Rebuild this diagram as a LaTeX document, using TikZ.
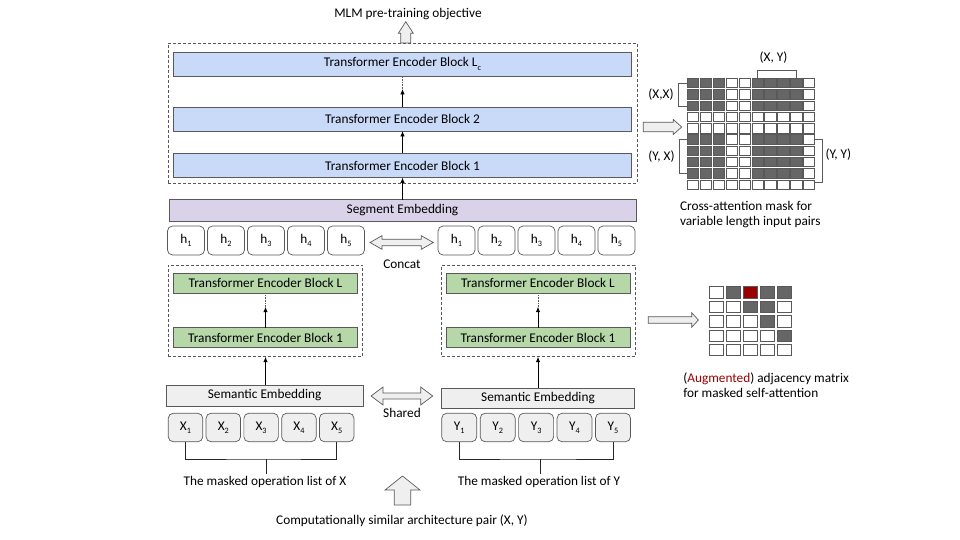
\documentclass[tikz,border=0pt]{standalone}
\usepackage{fontspec}
\setmainfont{Carlito}
\usetikzlibrary{arrows.meta,calc}

\definecolor{edge}{HTML}{595959}
\definecolor{blueF}{HTML}{C9DAF8}
\definecolor{purpleF}{HTML}{D9D2E9}
\definecolor{greenF}{HTML}{B6D7A8}
\definecolor{greyF}{HTML}{EFEFEF}
\definecolor{cellD}{HTML}{666666}
\definecolor{cellR}{HTML}{990000}
\definecolor{augred}{HTML}{990000}

% small lowered index, as in h_1 or X_1
\newcommand\lowidx[1]{\raisebox{-0.5ex}{\fontsize{8.2}{8.2}\selectfont #1}}

\begin{document}
\begin{tikzpicture}[x=1pt,y=-1pt,
  every node/.style={inner sep=0pt, outer sep=0pt, font=\fontsize{13.3}{15}\selectfont},
  encblue/.style={draw=edge, line width=0.7pt, fill=blueF, minimum width=458pt, minimum height=24pt},
  encgreen/.style={draw=edge, line width=0.7pt, fill=greenF, minimum width=184pt, minimum height=20pt},
  segbar/.style={draw=edge, line width=0.7pt, fill=purpleF, minimum width=467pt, minimum height=22pt},
  sembar/.style={draw=edge, line width=0.7pt, fill=greyF, minimum height=21pt},
  htok/.style={draw=edge, line width=0.7pt, rounded corners=5pt, fill=white, minimum width=37pt, minimum height=29pt},
  xtok/.style={draw=edge, line width=0.7pt, rounded corners=5pt, fill=greyF, minimum width=34.5pt, minimum height=28.5pt},
  groupbox/.style={draw=edge, dashed, dash pattern=on 3pt off 2pt, line width=0.6pt},
  flow/.style={-{Latex[length=5.5pt,width=4.5pt]}, line width=0.9pt, black},
  skip/.style={densely dotted, line width=0.6pt, edge},
  hollow/.style={draw=edge, fill=greyF, line width=0.7pt, line join=miter},
  brace/.style={draw=black!85, line width=0.8pt},
  gbrace/.style={draw=edge, line width=0.7pt},
  cellbox/.style={draw=edge, line width=0.6pt}
]
\useasboundingbox (0,0) rectangle (960,540);

% ---------------- cross-encoder stack ----------------
\node (mlm) at (408,14) {MLM pre-training objective};
\path[hollow] (405.8,21.7) -- (413.3,33.3) -- (410.8,33.3) -- (410.8,43) -- (400.8,43)
  -- (400.8,33.3) -- (398.3,33.3) -- cycle;

\node[groupbox, minimum width=469pt, minimum height=140pt] (topgrp) at (402.5,113) {};
\node[encblue] (Lc) at (402.5,64) {Transformer Encoder Block L\lowidx{c}};
\node[encblue] (B2) at (402.5,119) {Transformer Encoder Block 2};
\node[encblue] (B1) at (402.5,165.5) {Transformer Encoder Block 1};
\coordinate (topmid) at (402.5,89);
\draw[flow] (B1.north) -- (B2.south);
\draw[flow] (B2.north) -- (topmid);
\draw[skip] (topmid) -- (Lc.south);

\node[segbar] (seg) at (402.5,210.5) {Segment Embedding};
\draw[flow] (seg.north) -- (B1.south);

% ---------------- hidden states ----------------
\foreach \i [count=\k from 0] in {1,...,5} {
  \node[htok] (hL\i) at ({186+40*\k},240.5) {h\lowidx{\i}};
  \node[htok] (hR\i) at ({456.5+40*\k},240.5) {h\lowidx{\i}};
}
\path[hollow] (370,242.5) -- (382,235.7) -- (382,239.2) -- (421.3,239.2) -- (421.3,235.7)
  -- (433.3,242.5) -- (421.3,249.3) -- (421.3,245.8) -- (382,245.8) -- (382,249.3) -- cycle;
\node (concat) at (402,264) {Concat};

% ---------------- two encoders ----------------
\node[groupbox, minimum width=194.7pt, minimum height=91.7pt] (grpL) at (265.35,310.85) {};
\node[groupbox, minimum width=193.3pt, minimum height=91.7pt] (grpR) at (538.35,310.85) {};
\node[encgreen] (gL2) at (265.5,283.3) {Transformer Encoder Block L};
\node[encgreen] (gL1) at (265.5,337.5) {Transformer Encoder Block 1};
\node[encgreen] (gR2) at (538,283.3) {Transformer Encoder Block L};
\node[encgreen] (gR1) at (538,337.5) {Transformer Encoder Block 1};
\coordinate (midL) at (265.5,306.7);
\coordinate (midR) at (538,306.7);
\draw[flow] (gL1.north) -- (midL);
\draw[skip] (midL) -- (gL2.south);
\draw[flow] (gR1.north) -- (midR);
\draw[skip] (midR) -- (gR2.south);

\node[sembar, minimum width=197pt] (semL) at (264.7,395.5) {Semantic Embedding};
\node[sembar, minimum width=193pt, minimum height=20pt] (semR) at (538,398.3) {Semantic Embedding};
\draw[flow] (semL.north -| gL1.south) -- (grpL.south -| gL1.south);
\draw[flow] (semR.north -| gR1.south) -- (grpR.south -| gR1.south);

\path[hollow] (371,396) -- (383,387) -- (383,393) -- (420.7,393) -- (420.7,387)
  -- (432.7,396) -- (420.7,405) -- (420.7,399) -- (383,399) -- (383,405) -- cycle;
\node (shared) at (402,413) {Shared};

% ---------------- operation tokens ----------------
\foreach \i [count=\k from 0] in {1,...,5} {
  \node[xtok] (X\i) at ({185.5+37.8*\k},427.5) {X\lowidx{\i}};
  \node[xtok, minimum width=35pt] (Y\i) at ({459.2+38.45*\k},427.5) {Y\lowidx{\i}};
}
\coordinate (xstem) at (266,459);
\coordinate (ystem) at (540,459);
\draw[brace] (X1.south) |- (xstem) -| (X5.south);
\draw[brace] (xstem) -- ++(0,14.5);
\draw[brace] (Y1.south) |- (ystem) -| (Y5.south);
\draw[brace] (ystem) -- ++(0,14.5);
\node (xlist) at (265,482) {The masked operation list of X};
\node (ylist) at (539,482) {The masked operation list of Y};

\path[hollow] (402.5,476) -- (420,490) -- (410.7,490) -- (410.7,505) -- (394.3,505)
  -- (394.3,490) -- (385,490) -- cycle;
\node (pair) at (402,521) {Computationally similar architecture pair (X, Y)};

% ---------------- cross-attention mask ----------------
\path[hollow] (643.3,122.3) -- (673.3,122.3) -- (673.3,119.5) -- (681.7,127) -- (673.3,134.5)
  -- (673.3,131.7) -- (643.3,131.7) -- cycle;
\foreach \r in {0,...,9} {
  \foreach \c in {0,...,9} {
    \pgfmathtruncatemacro\rk{(\r<3)||((\r>4)&&(\r<9))}
    \pgfmathtruncatemacro\ck{(\c<3)||((\c>4)&&(\c<9))}
    \pgfmathtruncatemacro\dk{\rk*\ck}
    \ifnum\dk=1 \def\cf{cellD}\else\def\cf{white}\fi
    \path[cellbox, fill=\cf] ({687.3+12.9*\c},{78.3+11.3*\r}) rectangle ++(11.3,9.4);
  }
}
\node (lxy) at (773.5,58) {(X, Y)};
\draw[gbrace] (757.4,78.3) -- (757.4,70) -- (796.1,70) -- (796.1,78.3);
\node (lxx) at (661,95) {(X,X)};
\draw[gbrace] (687.3,83) -- (678.3,83) -- (678.3,106) -- (687.3,106);
\node (lyx) at (661.5,156.7) {(Y, X)};
\draw[gbrace] (687.3,139.5) -- (679,139.5) -- (679,173.4) -- (687.3,173.4);
\node[anchor=west] (lyy) at (825.5,155) {(Y, Y)};
\draw[gbrace] (814.7,139.5) -- (822.7,139.5) -- (822.7,182) -- (814.7,182);
\node[anchor=west, align=left] (xattn) at (680,214.5) {Cross-attention mask for\\variable length input pairs};

% ---------------- adjacency matrix ----------------
\path[hollow] (648.3,316.7) -- (691.7,316.7) -- (691.7,312.7) -- (698.3,320) -- (691.7,327.3)
  -- (691.7,323.3) -- (648.3,323.3) -- cycle;
\foreach \r/\row in {0/{white,cellD,cellR,cellD,cellD},
                     1/{white,white,cellD,cellD,white},
                     2/{white,white,white,cellD,white},
                     3/{white,white,white,white,cellD},
                     4/{white,white,white,white,white}} {
  \foreach \cf [count=\c from 0] in \row {
    \path[cellbox, fill=\cf] ({709+17*\c},{286.7+14.4*\r}) rectangle ++(14.3,11.3);
  }
}
\node[anchor=west, align=left] (adjtxt) at (683.3,385.5)
  {(\textcolor{augred}{Augmented}) adjacency matrix\\for masked self-attention};
\end{tikzpicture}
\end{document}
